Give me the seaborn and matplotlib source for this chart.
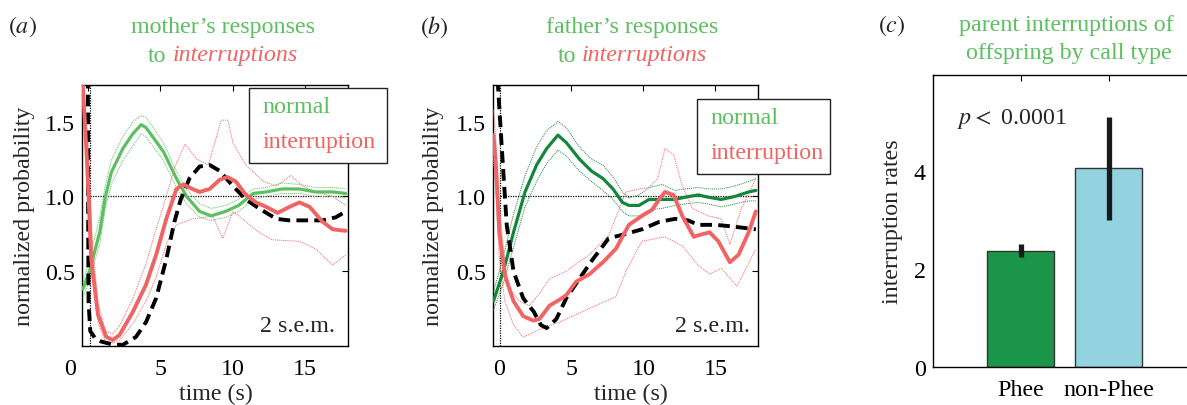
import numpy as np
import pandas as pd
import matplotlib
matplotlib.use("Agg")
import matplotlib.pyplot as plt
import seaborn as sns
from matplotlib.patches import Rectangle
from matplotlib.transforms import ScaledTranslation

# ---------------- data ----------------
# panel (a) mother
a_green_x = [-0.36, 0.1, 0.8, 1.2, 1.6, 2.4, 3.1, 3.67, 4.0, 5.2, 6.1, 6.8, 7.7, 8.5, 9.5, 10.4, 11.4, 12.3, 13.4, 14.6, 15.7, 16.9, 17.8]
a_green_mean = [0.38, 0.50, 0.76, 1.0, 1.16, 1.32, 1.42, 1.48, 1.46, 1.30, 1.12, 1.0, 0.90, 0.87, 0.90, 0.94, 1.02, 1.03, 1.05, 1.05, 1.03, 1.03, 1.02]
a_green_up = [0.42, 0.58, 0.86, 1.08, 1.24, 1.40, 1.50, 1.54, 1.53, 1.36, 1.17, 1.05, 0.95, 0.92, 0.94, 0.98, 1.05, 1.06, 1.09, 1.08, 1.06, 1.06, 1.05]
a_green_lo = [0.32, 0.44, 0.68, 0.92, 1.08, 1.24, 1.34, 1.42, 1.40, 1.24, 1.06, 0.95, 0.86, 0.84, 0.86, 0.90, 0.98, 1.00, 1.02, 1.02, 1.00, 1.00, 0.99]

a_red_x = [-0.36, -0.08, 0.22, 0.68, 1.25, 1.7, 2.17, 3.1, 4.0, 4.7, 5.4, 6.1, 6.6, 7.2, 7.7, 8.4, 9.07, 9.6, 10.2, 10.9, 11.6, 12.3, 13.1, 13.9, 14.6, 15.3, 16.2, 16.9, 17.8]
a_red_mean = [1.74, 1.25, 0.58, 0.21, 0.062, 0.04, 0.073, 0.23, 0.41, 0.61, 0.85, 1.05, 1.08, 1.05, 1.03, 1.05, 1.11, 1.13, 1.10, 1.01, 0.96, 0.93, 0.89, 0.93, 0.96, 0.93, 0.83, 0.78, 0.77]
a_red_up_x = [-0.38, 0.0, 0.3, 0.7, 1.2, 1.7, 2.2, 3.1, 4.0, 4.7, 5.4, 6.0, 6.7, 7.5, 8.3, 9.2, 9.65, 10.0, 10.9, 12.1, 13.0, 14.0, 14.8, 15.7, 16.9, 17.8]
a_red_up = [1.76, 1.35, 0.68, 0.28, 0.10, 0.08, 0.14, 0.32, 0.55, 0.78, 1.00, 1.20, 1.35, 1.25, 1.21, 1.51, 1.51, 1.36, 1.21, 1.10, 1.07, 1.14, 1.07, 1.03, 1.00, 0.94]
a_red_lo_x = [-0.38, 0.0, 0.3, 0.7, 1.2, 1.7, 2.2, 3.1, 4.0, 4.7, 5.4, 6.1, 7.2, 8.0, 8.6, 9.3, 10.0, 10.4, 11.8, 12.7, 14.6, 15.7, 16.9, 17.8]
a_red_lo = [1.70, 1.10, 0.48, 0.15, 0.03, 0.02, 0.04, 0.15, 0.30, 0.46, 0.68, 0.81, 0.85, 0.86, 0.87, 0.72, 0.90, 0.87, 0.76, 0.71, 0.70, 0.65, 0.54, 0.61]

a_black_x = [-0.01, 0.0, 0.03, 0.15, 0.5, 0.9, 1.7, 2.4, 3.3, 4.0, 4.7, 5.4, 5.96, 6.4, 7.0, 7.7, 8.4, 9.1, 10.0, 10.9, 11.8, 13.0, 13.9, 15.0, 16.2, 17.1, 17.8]
a_black = [1.80, 1.0, 0.30, 0.10, 0.05, 0.03, 0.01, 0.008, 0.06, 0.16, 0.32, 0.58, 0.83, 0.98, 1.12, 1.20, 1.21, 1.17, 1.07, 0.98, 0.92, 0.85, 0.84, 0.84, 0.84, 0.86, 0.90]

# panel (b) father
b_green_x = [-0.39, 0.3, 1.0, 1.8, 2.6, 3.3, 4.08, 4.66, 5.57, 6.4, 7.2, 7.9, 8.55, 9.0, 9.7, 10.4, 11.3, 12.2, 12.9, 13.8, 14.5, 15.4, 16.35, 17.3, 17.8]
b_green_mean = [0.30, 0.50, 0.76, 1.03, 1.21, 1.32, 1.41, 1.36, 1.25, 1.17, 1.12, 1.05, 0.96, 0.94, 0.94, 0.98, 0.98, 0.98, 0.995, 1.01, 0.995, 0.98, 1.0, 1.03, 1.04]
b_green_up = [0.36, 0.60, 0.88, 1.14, 1.33, 1.44, 1.50, 1.46, 1.33, 1.25, 1.21, 1.13, 1.03, 0.99, 1.01, 1.06, 1.08, 1.04, 1.05, 1.06, 1.05, 1.05, 1.07, 1.10, 1.12]
b_green_lo = [0.24, 0.42, 0.66, 0.93, 1.10, 1.22, 1.31, 1.27, 1.17, 1.10, 1.04, 0.98, 0.90, 0.87, 0.87, 0.91, 0.92, 0.94, 0.95, 0.96, 0.95, 0.93, 0.95, 0.97, 0.97]

b_red_x = [-0.39, -0.2, 0.02, 0.41, 1.0, 1.67, 2.36, 2.8, 3.5, 4.2, 4.66, 5.34, 6.26, 7.2, 8.1, 9.0, 9.9, 10.6, 11.1, 11.5, 12.1, 12.7, 13.5, 13.8, 14.6, 15.2, 16.0, 16.6, 17.3, 17.8]
b_red_mean = [1.41, 1.18, 0.76, 0.47, 0.30, 0.20, 0.17, 0.18, 0.27, 0.31, 0.34, 0.43, 0.48, 0.56, 0.65, 0.81, 0.87, 0.91, 0.98, 1.03, 1.01, 0.87, 0.73, 0.74, 0.76, 0.70, 0.56, 0.61, 0.76, 0.90]
b_red_up_x = [-0.39, -0.2, 0.0, 0.4, 0.76, 1.4, 2.1, 2.8, 3.5, 4.66, 5.5, 6.26, 7.6, 8.8, 9.7, 10.4, 11.0, 11.5, 12.1, 12.7, 13.4, 14.5, 15.4, 16.0, 16.8, 17.8]
b_red_up = [1.58, 1.35, 0.95, 0.55, 0.38, 0.30, 0.27, 0.35, 0.45, 0.50, 0.56, 0.61, 0.74, 1.03, 1.05, 1.06, 1.12, 1.32, 1.28, 1.07, 0.92, 0.87, 0.85, 0.68, 0.92, 1.12]
b_red_lo_x = [-0.39, -0.2, 0.0, 0.4, 1.0, 1.67, 3.05, 4.2, 5.34, 6.7, 8.1, 8.8, 9.9, 11.5, 12.7, 13.8, 14.6, 15.4, 16.5, 17.8]
b_red_lo = [1.25, 1.0, 0.6, 0.30, 0.14, 0.06, 0.12, 0.16, 0.21, 0.27, 0.33, 0.50, 0.70, 0.73, 0.67, 0.54, 0.48, 0.52, 0.40, 0.65]

b_black_x = [-0.1, 0.18, 0.53, 1.0, 1.67, 2.4, 2.9, 3.3, 3.97, 4.66, 5.57, 6.5, 7.6, 8.8, 9.9, 11.1, 12.2, 13.1, 13.8, 15.0, 16.1, 17.8]
b_black = [1.78, 1.34, 0.81, 0.50, 0.32, 0.23, 0.14, 0.12, 0.18, 0.32, 0.45, 0.58, 0.72, 0.75, 0.78, 0.83, 0.85, 0.84, 0.81, 0.81, 0.80, 0.78]

# panel (c)
call_types = ["Phee", "non-Phee"]
rates = [2.36, 4.07]
err_low = [2.25, 3.00]
err_high = [2.51, 5.11]

# ---------------- style ----------------
sns.set_style("white")
plt.rcParams["font.family"] = ["Liberation Serif", "DejaVu Serif"]
plt.rcParams["mathtext.fontset"] = "stix"

FS = 17.3
GREEN_L = "#5cbf60"
GREEN_D = "#12873a"
RED = "#f06464"
BAR_G = "#1b9648"
BAR_B = "#93d3e0"

W, H = 1187, 406
fig = plt.figure(figsize=(W / 100, H / 100), dpi=100)


def px_axes(left, top, right, bottom):
    return fig.add_axes([left / W, 1 - bottom / H, (right - left) / W, (bottom - top) / H])


def style_axes(ax):
    for s in ax.spines.values():
        s.set_color("black")
        s.set_linewidth(1.0)
    ax.tick_params(direction="in", top=True, right=True, length=4, width=0.8,
                   labelsize=FS, colors="black")
    ax.tick_params(axis="x", pad=9)
    ax.tick_params(axis="y", pad=5)


def line(ax, x, y, color, lw, ls="-", z=3):
    sns.lineplot(x=x, y=y, ax=ax, color=color, linewidth=lw, linestyle=ls,
                 estimator=None, sort=False, zorder=z)


def time_panel(ax, gx, gm, gu, gl, gcol, rx, rm, rux, ru, rlx, rl, kx, km, vx, legend_box, legend_txt, sem_x, xlabel_x):
    ax.axvline(vx, color="black", lw=0.9, ls=(0, (1, 1)), zorder=2)
    ax.hlines(1.0, vx, 17.95, color="black", lw=0.9, ls=(0, (1, 1)), zorder=2)
    line(ax, gx, gu, gcol, 0.7, (0, (1, 1)))
    line(ax, gx, gl, gcol, 0.7, (0, (1, 1)))
    line(ax, rux, ru, RED, 0.7, (0, (1, 1)))
    line(ax, rlx, rl, RED, 0.7, (0, (1, 1)))
    line(ax, gx, gm, gcol, 2.3, "-", 4)
    line(ax, kx, km, "black", 2.8, (0, (3, 1.6)), 5)
    line(ax, rx, rm, RED, 2.8, "-", 6)
    ax.set_xlim(-0.42, 17.95)
    ax.set_ylim(0, 1.745)
    ax.set_xticks([0, 5, 10, 15])
    ax.set_yticks([0.5, 1.0, 1.5])
    ax.set_yticklabels(["0.5", "1.0", "1.5"])
    style_axes(ax)
    ax.set_xlabel("time (s)", fontsize=FS)
    ax.xaxis.set_label_coords(xlabel_x, -0.14)
    ax.xaxis.label.set_va("top")
    ax.set_ylabel("normalized probability", fontsize=FS)
    bx0, by0, bx1, by1 = legend_box
    ax.add_patch(Rectangle((bx0, by0), bx1 - bx0, by1 - by0, transform=ax.transAxes,
                           facecolor="white", edgecolor="#222222", lw=1.0,
                           clip_on=False, zorder=20))
    tx, ty1, ty2 = legend_txt
    ax.text(tx, ty1, "normal", color=GREEN_L, fontsize=FS, transform=ax.transAxes,
            ha="left", va="center", zorder=21, clip_on=False)
    ax.text(tx, ty2, "interruption", color=RED, fontsize=FS, transform=ax.transAxes,
            ha="left", va="center", zorder=21, clip_on=False)
    ax.text(sem_x, 0.077, "2 s.e.m.", fontsize=FS, transform=ax.transAxes,
            ha="right", va="center", zorder=21)


# panel (a)
axA = px_axes(82, 86, 348, 347)
time_panel(axA, a_green_x, a_green_mean, a_green_up, a_green_lo, GREEN_L,
           a_red_x, a_red_mean, a_red_up_x, a_red_up, a_red_lo_x, a_red_lo,
           a_black_x, a_black, 0.15,
           (0.628, 0.701, 1.147, 0.989), (0.68, 0.916, 0.782), 0.951, 0.504)
axA.yaxis.set_label_coords(-0.175, 0.5)
# the "0" tick label of panel (a) sits left of the frame in the original
lab0 = axA.get_xticklabels()[0]
lab0.set_transform(lab0.get_transform() + ScaledTranslation(-0.18, 0, fig.dpi_scale_trans))

# panel (b)
axB = px_axes(493, 86, 758, 347)
time_panel(axB, b_green_x, b_green_mean, b_green_up, b_green_lo, GREEN_D,
           b_red_x, b_red_mean, b_red_up_x, b_red_up, b_red_lo_x, b_red_lo,
           b_black_x, b_black, 0.07,
           (0.77, 0.659, 1.272, 0.946), (0.819, 0.877, 0.743), 0.970, 0.52)
axB.yaxis.set_label_coords(-0.185, 0.5)

# panel (c)
axC = px_axes(932.5, 76, 1196.5, 368)
dfc = pd.DataFrame({"call": call_types, "rate": rates})
sns.barplot(data=dfc, x="call", y="rate", hue="call", palette=[BAR_G, BAR_B],
            saturation=1, width=0.76, edgecolor="#333333", linewidth=1.0,
            legend=False, errorbar=None, ax=axC, zorder=2)
axC.vlines([0, 1], err_low, err_high, color="#1a1a1a", lw=3.8, zorder=5)
axC.set_xlim(-1, 2)
axC.set_ylim(0, 5.96)
axC.set_yticks([0, 2, 4])
style_axes(axC)
axC.spines["right"].set_visible(False)
axC.tick_params(right=False)
axC.set_xlabel("")
axC.set_ylabel("interruption rates", fontsize=FS)
axC.yaxis.set_label_coords(-0.112, 0.5)
axC.text(0.093, 0.853, r"$p <$ 0.0001", transform=axC.transAxes, fontsize=FS,
         ha="left", va="center")

# ---------------- titles ----------------
def ft(x, y, s, **kw):
    fig.text(x / W, 1 - y / H, s, fontsize=FS, va="center", **kw)

ft(8, 27, r"$(a)$", ha="left", color="#222222")
ft(420, 27, r"$(b)$", ha="left", color="#222222")
ft(878, 26, r"$(c)$", ha="left", color="#222222")

ft(223, 27, "mother\u2019s responses", ha="center", color=GREEN_L)
ft(166, 56, "to", ha="right", color=GREEN_L)
ft(173, 56, "interruptions", ha="left", color=RED, style="italic")

ft(632, 27, "father\u2019s responses", ha="center", color=GREEN_L)
ft(576, 56, "to", ha="right", color=GREEN_L)
ft(582, 56, "interruptions", ha="left", color=RED, style="italic")

ft(1066, 26, "parent interruptions of", ha="center", color=GREEN_L)
ft(1069, 53, "offspring by call type", ha="center", color=GREEN_L)

fig.savefig("out.png", dpi=100)
